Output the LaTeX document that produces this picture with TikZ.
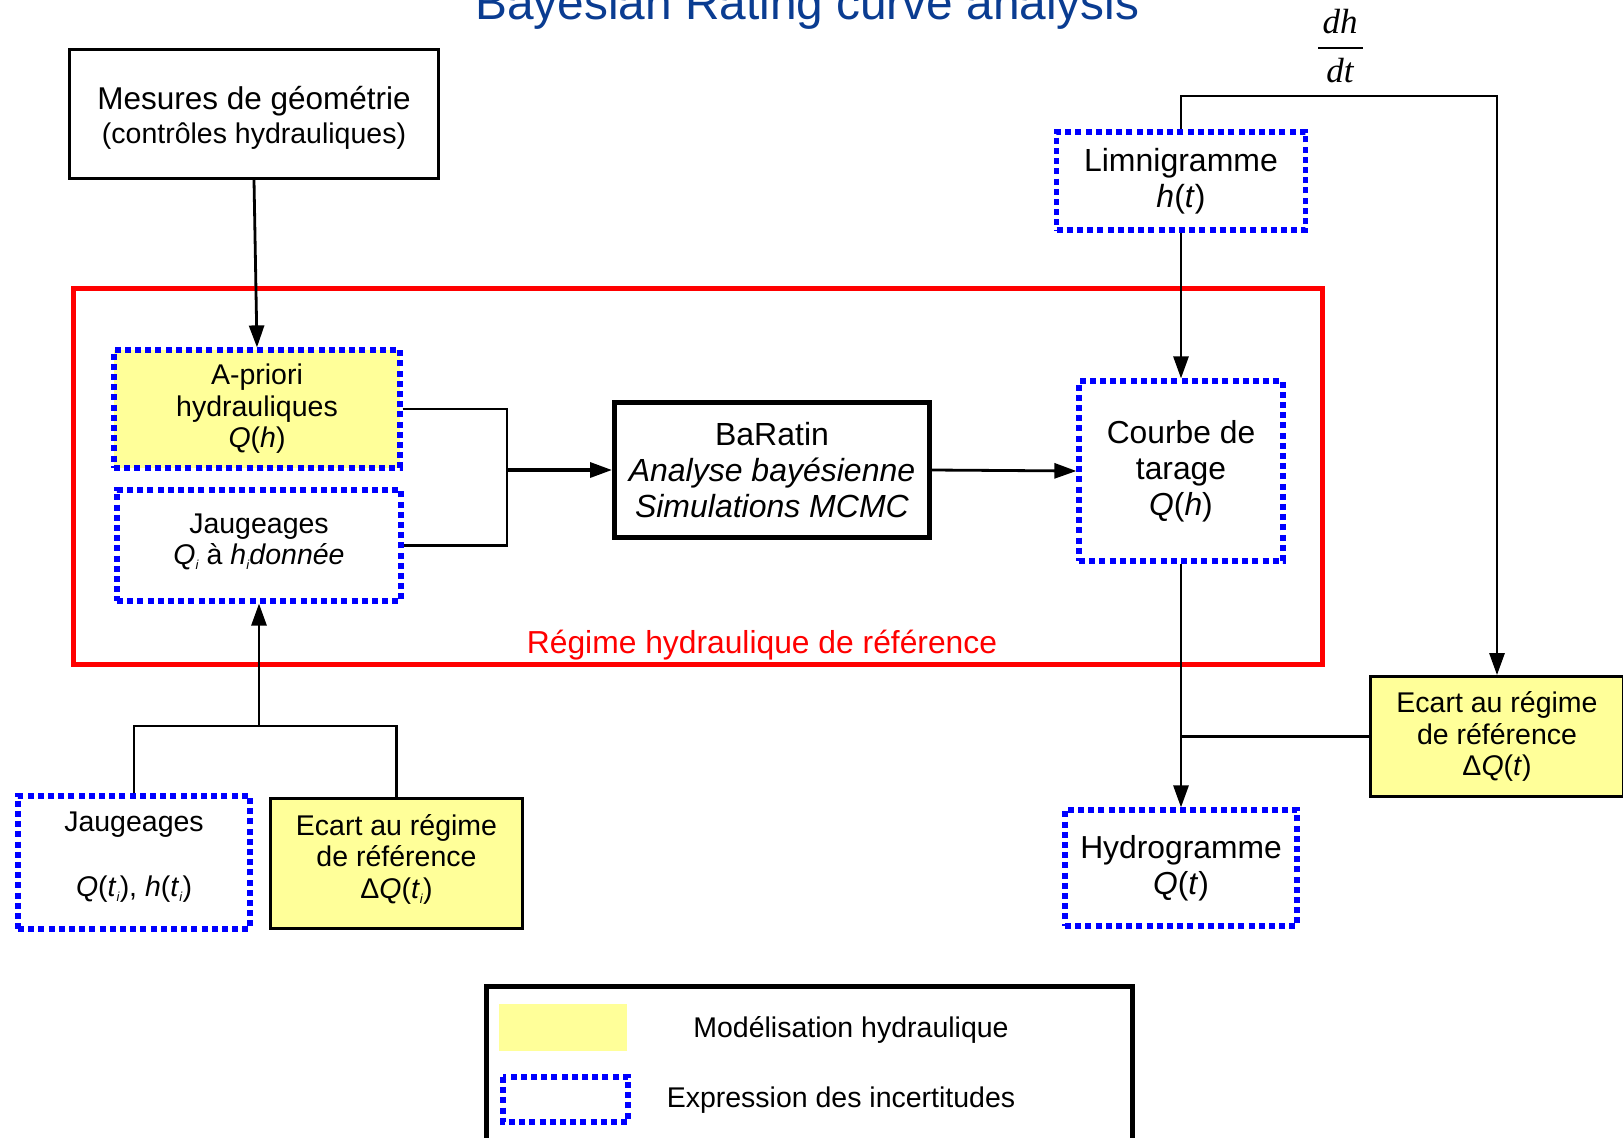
\documentclass[tikz,border=0pt]{standalone}
\usepackage{fontspec}
\setmainfont{Liberation Sans}
\newfontfamily\serifface{Liberation Serif}
\usetikzlibrary{arrows.meta}
\definecolor{hyellow}{RGB}{255,255,153}
\definecolor{titleblue}{RGB}{10,60,145}
\definecolor{dotblue}{RGB}{0,0,255}
\definecolor{regred}{RGB}{255,0,0}
\newcommand{\fsz}[2]{\fontsize{#1}{#2}\selectfont}
\newcommand{\subi}{\raisebox{-5pt}{\fsz{13}{13}\textit{i}}}
\newcommand{\liftlines}[2]{\raisebox{#1}[\height][\depth]{\begin{tabular}{@{}c@{}}#2\end{tabular}}}
\tikzset{
  box/.style={draw=black, line width=2.8pt, align=center, inner sep=0pt, font=\fsz{28.5}{31.5}},
  dotbox/.style={draw=dotblue, line width=5.2pt, dash pattern=on 6pt off 4.2pt, align=center, inner sep=0pt, font=\fsz{28.5}{31.5}},
  yel/.style={fill=hyellow},
  conn/.style={line width=2.8pt},
  arr/.style={conn, -{Triangle[width=15pt,length=22pt]}},
}
\begin{document}
\begin{tikzpicture}[x=1pt,y=-1pt]
\useasboundingbox (0,0) rectangle (1623,1138);
% title
\node[anchor=base west, text=titleblue, font=\fsz{47.8}{50}, inner sep=0pt] (title) at (475,19) {Bayesian Rating curve analysis};
% derivative label
\node[anchor=base, font=\serifface\itshape\fsz{35}{38}, inner sep=0pt] (dh) at (1340,33) {dh};
\draw[line width=2.6pt] (1318,48) -- (1363,48);
\node[anchor=base, font=\serifface\itshape\fsz{35}{38}, inner sep=0pt] (dt) at (1340,82) {dt};
% reference regime frame
\draw[regred, line width=5pt] (73,288) rectangle (1322,664);
\node[text=regred, font=\fsz{31.8}{34}] (reglab) at (762,645) {Régime hydraulique de référence};
% nodes
\node[box, minimum width=369pt, minimum height=129pt, font=\fsz{31.5}{34}] (mes) at (254,114)
  {\liftlines{-6pt}{Mesures de géométrie\\{\fsz{28.5}{34}(contrôles hydrauliques)}}};
\node[dotbox, yel, minimum width=286pt, minimum height=118pt] (apriori) at (257,409)
  {A-priori\\hydrauliques\\\textit{Q}(\textit{h})};
\node[dotbox, minimum width=284pt, minimum height=111pt] (jaug1) at (259,545.5)
  {\liftlines{3pt}{Jaugeages\\\textit{Q}\subi\ à \textit{h}\subi\textit{donnée}}};
\node[box, line width=5pt, minimum width=315pt, minimum height=135pt, font=\fsz{32}{36}] (baratin) at (772,470)
  {BaRatin\\\textit{Analyse bayésienne}\\\textit{Simulations MCMC}};
\node[dotbox, minimum width=204pt, minimum height=180pt, font=\fsz{31.8}{36}] (courbe) at (1181,471)
  {Courbe de\\tarage\\\textit{Q}(\textit{h})};
\node[dotbox, minimum width=249pt, minimum height=98pt, font=\fsz{32}{36}] (lim) at (1181,181)
  {Limnigramme\\\textit{h}(\textit{t})};
\node[dotbox, minimum width=232pt, minimum height=116pt, font=\fsz{31.8}{36}] (hydro) at (1181,868)
  {Hydrogramme\\\textit{Q}(\textit{t})};
\node[box, yel, minimum width=253pt, minimum height=120pt] (ecartR) at (1497,736.5)
  {Ecart au régime\\de référence\\Δ\textit{Q}(\textit{t})};
\node[dotbox, minimum width=232pt, minimum height=133pt] (jaug2) at (134,862.5)
  {\liftlines{5pt}{Jaugeages\\[33pt]\textit{Q}(\textit{t}\subi), \textit{h}(\textit{t}\subi)}};
\node[box, yel, minimum width=252pt, minimum height=130pt] (ecart2) at (396.5,863.5)
  {\liftlines{3pt}{Ecart au régime\\de référence\\Δ\textit{Q}(\textit{t}\subi)}};
% connectors
\coordinate (jn) at (507,470);
\coordinate (tr) at (1497,96);
\coordinate (bj) at (259,726);
\draw[arr] (mes.south) -- (apriori.north);
\draw[conn] (apriori.east) -| (jn) |- (jaug1.east);
\draw[arr, line width=3.4pt] (jn) -- (baratin.west);
\draw[arr] (baratin.east) -- (courbe.west);
\draw[arr] (lim.south) -- (courbe.north);
\draw[arr] (lim.north) |- (tr) -- (ecartR.north);
\draw[arr] (courbe.south) -- (hydro.north);
\draw[conn] (ecartR.west) -- (ecartR.west -| courbe.south);
\draw[conn] (jaug2.north) |- (bj) -| (ecart2.north);
\draw[arr] (bj) -- (jaug1.south);
% legend
\draw[line width=5pt] (486,986) rectangle (1132,1150);
\fill[hyellow] (499,1004) rectangle (627,1051);
\draw[draw=dotblue, line width=5.2pt, dash pattern=on 6pt off 4.2pt] (503,1077) rectangle (628,1122);
\node[font=\fsz{28.5}{32}] (leg1) at (851,1030) {Modélisation hydraulique};
\node[font=\fsz{28.5}{32}] (leg2) at (841,1100) {Expression des incertitudes};
\end{tikzpicture}
\end{document}
